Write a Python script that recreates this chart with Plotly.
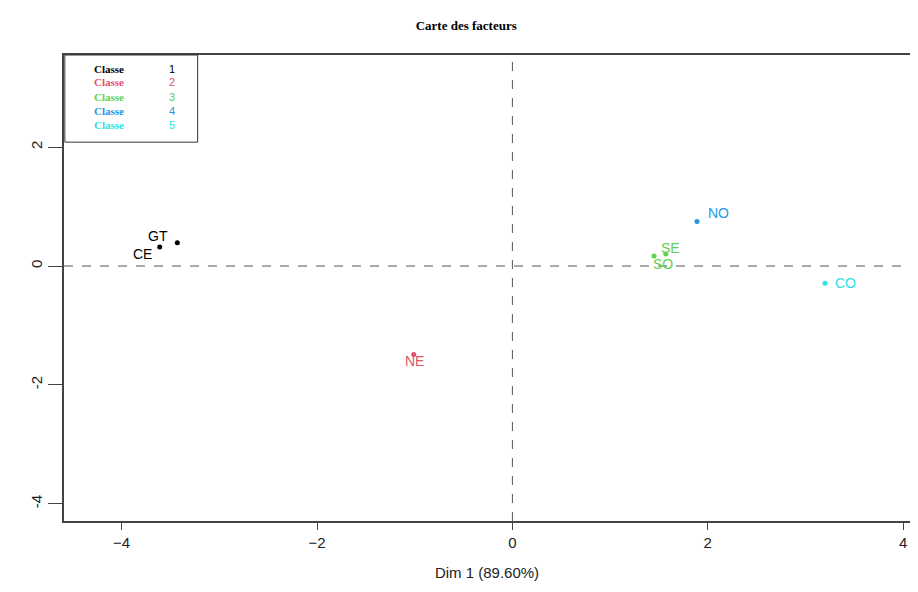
import plotly.graph_objects as go

# Data
labels = ["CE", "GT", "NE", "SO", "SE", "NO", "CO"]
dim1 = [-3.61, -3.43, -1.01, 1.45, 1.57, 1.89, 3.20]
dim2 = [0.32, 0.39, -1.49, 0.17, 0.20, 0.75, -0.29]
classes = [1, 1, 2, 3, 3, 4, 5]
class_ids = [1, 2, 3, 4, 5]
class_colors = ["#000000", "#DF536B", "#61D04F", "#2297E6", "#28E2E5"]
x_ticks = [-4, -2, 0, 2, 4]
y_ticks = [-4, -2, 0, 2]
title_text = "Carte des facteurs"
x_title = "Dim 1 (89.60%)"

# label offsets in pixels (text placement)
label_shift = {
    "CE": (-17, -7), "GT": (-19, 7), "NE": (1, -6), "SO": (9, -8),
    "SE": (5, 6), "NO": (21, 8), "CO": (20, 0),
}

col_of = dict(zip(class_ids, class_colors))

fig = go.Figure()
fig.add_trace(go.Scatter(
    x=dim1, y=dim2, mode="markers",
    marker=dict(size=5, color=[col_of[c] for c in classes]),
    hoverinfo="text", text=labels, showlegend=False,
))

annotations = []
for lab, x, y, c in zip(labels, dim1, dim2, classes):
    dx, dy = label_shift[lab]
    annotations.append(dict(
        x=x, y=y, xref="x", yref="y", text=lab, showarrow=False,
        xshift=dx, yshift=dy,
        font=dict(family="Liberation Sans, Arial, sans-serif", size=14, color=col_of[c]),
    ))

# Legend box contents
row_y = [0.971, 0.941, 0.910, 0.879, 0.849]
for cid, col, ry in zip(class_ids, class_colors, row_y):
    annotations.append(dict(
        x=0.0535, y=ry, xref="paper", yref="paper", text="<b>Classe</b>",
        showarrow=False, xanchor="center", yanchor="middle",
        font=dict(family="Liberation Serif, Times New Roman, serif", size=11, color=col),
    ))
    annotations.append(dict(
        x=0.128, y=ry, xref="paper", yref="paper", text=str(cid),
        showarrow=False, xanchor="center", yanchor="middle",
        font=dict(family="Liberation Sans, Arial, sans-serif", size=11, color=col),
    ))

shapes = [
    dict(type="line", xref="x", yref="paper", x0=0, x1=0, y0=0, y1=1,
         line=dict(color="#555555", width=1, dash="dash")),
    dict(type="line", xref="paper", yref="y", x0=0, x1=1, y0=0, y1=0,
         line=dict(color="#555555", width=1, dash="dash")),
    dict(type="rect", xref="paper", yref="paper", x0=0.001, x1=0.158, y0=0.813, y1=1,
         line=dict(color="#333333", width=1), fillcolor="rgba(0,0,0,0)"),
]

fig.update_layout(
    width=902, height=576,
    margin=dict(l=56, r=0, t=47, b=63),
    paper_bgcolor="white", plot_bgcolor="white",
    title=dict(text="<b>" + title_text + "</b>", x=0.508, xanchor="center", y=0.97, yanchor="middle",
               font=dict(family="Liberation Serif, Times New Roman, serif", size=13, color="#000000")),
    xaxis=dict(
        range=[-4.59, 4.07], tickvals=x_ticks, ticktext=[str(v).replace("-", "−") for v in x_ticks],
        showgrid=False, zeroline=False, showline=True, mirror=True, linecolor="#444444", linewidth=1.5,
        ticks="outside", ticklen=7, tickcolor="#444444",
        tickfont=dict(family="Liberation Sans, Arial, sans-serif", size=15, color="#222222"),
        title=dict(text=x_title, standoff=18,
                   font=dict(family="Liberation Sans, Arial, sans-serif", size=15, color="#222222")),
    ),
    yaxis=dict(
        range=[-4.29, 3.55], tickvals=y_ticks, ticktext=[str(v) for v in y_ticks],
        showgrid=False, zeroline=False, showline=True, linecolor="#444444", linewidth=1.5,
        ticks="outside", ticklen=14, tickcolor="#444444", tickangle=-90,
        tickfont=dict(family="Liberation Sans, Arial, sans-serif", size=15, color="#222222"),
    ),
    annotations=annotations,
    shapes=shapes,
)

fig.write_html("out.html")
